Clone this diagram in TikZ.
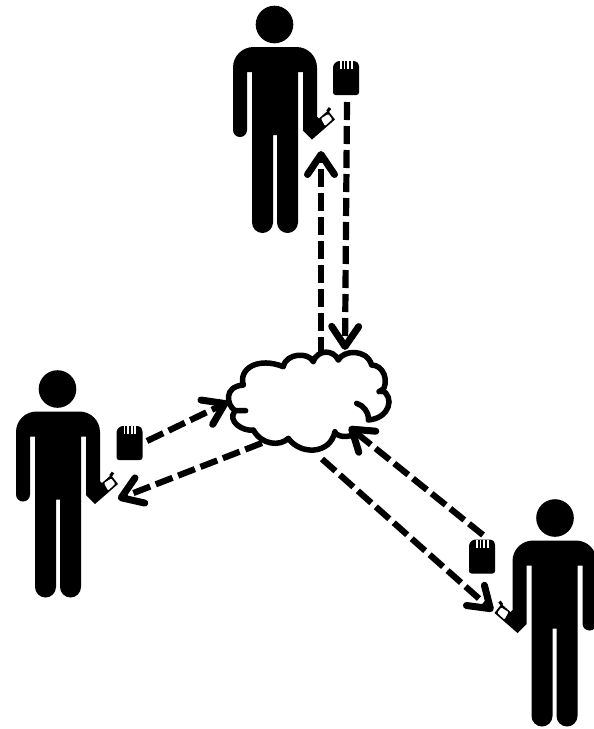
\documentclass[tikz,border=0pt]{standalone}
\usetikzlibrary{arrows.meta}
\tikzset{
  x=1pt,y=-1pt,
  flow/.style={line width=6.2pt,dash pattern=on 18pt off 6pt,
    -{Straight Barb[round,length=20pt,width=27pt,line width=7pt]}},
  cloudline/.style={line width=5.5pt,line cap=round},
  person/.pic={
    \fill[black] (-0.5,0) circle[radius=18.8pt];
    \fill[black]
      (-42,43) arc[start angle=180,end angle=90,radius=20.5pt] -- (21.5,22.5)
      arc[start angle=90,end angle=0,radius=20.5pt] -- (42,92) -- (44,94) -- (53,86) -- (60,95) -- (37,115) -- (28,106)
      -- (28,47.5) -- (23,47.5) -- (23,198)
      arc[start angle=0,end angle=-180,radius=10.5pt] -- (2,110.5) -- (-2,110.5) -- (-2,198)
      arc[start angle=0,end angle=-180,radius=10.5pt] -- (-23,47.5) -- (-28,47.5) -- (-28,105.5)
      arc[start angle=0,end angle=-180,radius=7pt] -- cycle;
    \fill[white,rounded corners=1pt] (53.3,89.5) -- (57.3,94.8) -- (50,101.5) -- (46,94) -- cycle;
    \draw[black,line width=3pt] (52.5,87) -- (55,83.5);
  },
  sdcard/.pic={
    \fill[black,rounded corners=2.5pt] (0,4) -- (4,0) -- (23,0) -- (26,3) -- (26,34) -- (0,34) -- cycle;
    \foreach \k in {7,10.6,14.2,17.8}
      \fill[white] (\k,0) rectangle (\k+1.8,8);
  }
}
\begin{document}
\begin{tikzpicture}
\useasboundingbox (0,0) rectangle (594,729);
\fill[white] (0,0) rectangle (594,729);
\pic (persontop) at (275,24.5) {person};
\pic (personleft) at (58,389) {person};
\pic[xscale=-1] (personright) at (554.5,518) {person};
\pic (cardtop) at (333,61) {sdcard};
\pic (cardleft) at (116.5,426) {sdcard};
\pic (cardright) at (469,539.5) {sdcard};
% cloud
\begin{scope}[shift={(215,340)},x=0.3333pt,y=-0.3333pt]
\fill[white] (85,135)--(205,78)--(295,63)--(370,60)--(470,75)--(500,155)--(460,240)--(430,270)--(360,278)--(220,295)--(115,270)--(60,212)--cycle;
\draw[cloudline]
  (85,135) .. controls (70,85) and (130,50) .. (205,80)
  (205,78) .. controls (215,40) and (280,35) .. (295,65)
  (295,63) .. controls (310,28) and (355,28) .. (370,60)
  (370,60) .. controls (385,30) and (455,25) .. (470,75)
  (470,75) .. controls (505,75) and (525,125) .. (500,155)
  (492,155) -- (500,150) .. controls (540,170) and (525,235) .. (460,240)
  (425,190) .. controls (445,197) and (462,215) .. (460,240)
  (478,272) -- (430,268)
  (360,278) .. controls (375,295) and (415,295) .. (430,268)
  (360,275) .. controls (345,345) and (255,345) .. (220,295)
  (220,295) .. controls (195,320) and (140,315) .. (115,270)
  (115,270) .. controls (85,275) and (35,245) .. (60,212)
  (92,212) -- (60,212) .. controls (35,195) and (25,140) .. (85,135);
\end{scope}
% connectors
\coordinate (upS) at (321,355);
\coordinate (upE) at (321,151);
\coordinate (downS) at (347,102);
\coordinate (downE) at (345,350);
\coordinate (laS) at (147,441);
\coordinate (laE) at (228,402);
\coordinate (lbS) at (262,443);
\coordinate (lbE) at (118,499);
\coordinate (raS) at (322,459);
\coordinate (raE) at (493,611);
\coordinate (rbS) at (483,535);
\coordinate (rbE) at (349,427);
\draw[flow] (upS) -- (upE);
\draw[flow] (downS) -- (downE);
\draw[flow] (laS) -- (laE);
\draw[flow] (lbS) -- (lbE);
\draw[flow] (raS) -- (raE);
\draw[flow] (rbS) -- (rbE);
\end{tikzpicture}
\end{document}
